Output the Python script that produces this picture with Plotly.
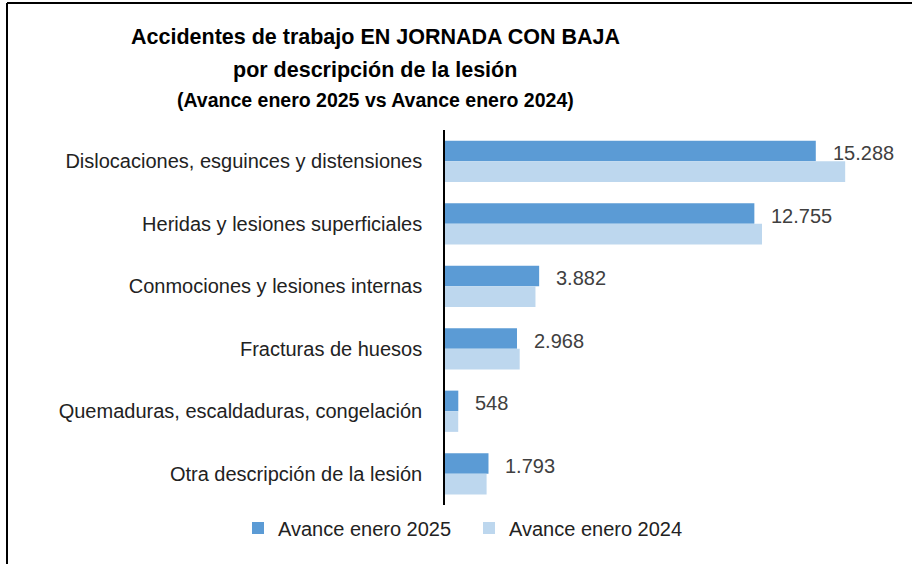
import plotly.graph_objects as go

categories = [
    "Dislocaciones, esguinces y distensiones",
    "Heridas y lesiones superficiales",
    "Conmociones y lesiones internas",
    "Fracturas de huesos",
    "Quemaduras, escaldaduras, congelación",
    "Otra descripción de la lesión",
]
values_2025 = [15288, 12755, 3882, 2968, 548, 1793]
values_2024 = [16500, 13070, 3730, 3080, 545, 1715]
labels_2025 = ["15.288", "12.755", "3.882", "2.968", "548", "1.793"]
series_names = ["Avance enero 2025", "Avance enero 2024"]

W, H = 912, 564
ML, MR, MT, MB = 445, 12, 130, 59
PW = W - ML - MR
PH = H - MT - MB

def px_x(px):
    return (px - ML) / PW

def px_y(py):
    return 1 - (py - MT) / PH

FONT = "Liberation Sans, Arial, sans-serif"

fig = go.Figure()
fig.add_trace(go.Bar(y=categories, x=values_2025, orientation="h", name=series_names[0],
                     marker=dict(color="#5B9BD5", line=dict(width=0))))
fig.add_trace(go.Bar(y=categories, x=values_2024, orientation="h", name=series_names[1],
                     marker=dict(color="#BDD7EE", line=dict(width=0))))

for cat, v, lab in zip(categories, values_2025, labels_2025):
    fig.add_annotation(x=v, y=cat, text=lab, showarrow=False, xanchor="left",
                       xshift=15, yshift=8,
                       font=dict(family=FONT, size=20, color="#404040"))

fig.add_annotation(xref="paper", yref="paper", x=px_x(375), y=px_y(37), text="<b>Accidentes de trabajo EN JORNADA CON BAJA</b>",
                   showarrow=False, xanchor="center", yanchor="middle",
                   font=dict(family=FONT, size=21.5, color="black"))
fig.add_annotation(xref="paper", yref="paper", x=px_x(375), y=px_y(70), text="<b>por descripción de la lesión</b>",
                   showarrow=False, xanchor="center", yanchor="middle",
                   font=dict(family=FONT, size=21.5, color="black"))
fig.add_annotation(xref="paper", yref="paper", x=px_x(375), y=px_y(100), text="<b>(Avance enero 2025 vs Avance enero 2024)</b>",
                   showarrow=False, xanchor="center", yanchor="middle",
                   font=dict(family=FONT, size=19.5, color="black"))

# chart border (top and left edges visible)
fig.add_shape(type="line", xref="paper", yref="paper",
              x0=px_x(7), x1=px_x(915), y0=px_y(3), y1=px_y(3),
              line=dict(color="black", width=2))
fig.add_shape(type="line", xref="paper", yref="paper",
              x0=px_x(7), x1=px_x(7), y0=px_y(3), y1=px_y(570),
              line=dict(color="black", width=2))

fig.update_layout(
    width=W, height=H,
    margin=dict(l=ML, r=MR, t=MT, b=MB),
    paper_bgcolor="white", plot_bgcolor="white",
    barmode="group", bargap=0.34, bargroupgap=0,
    font=dict(family=FONT, size=20, color="#222222"),
    showlegend=True,
    legend=dict(orientation="h", x=px_x(238), xanchor="left", y=px_y(528), yanchor="middle",
                font=dict(family=FONT, size=20, color="#222222"),
                itemwidth=30, traceorder="normal", entrywidth=186, entrywidthmode="pixels"),
    xaxis=dict(range=[0, 18760], visible=False, showgrid=False, zeroline=False),
    yaxis=dict(autorange="reversed", showline=True, linecolor="black", linewidth=1.5,
               ticks="", ticklabelstandoff=17, showgrid=False,
               tickfont=dict(family=FONT, size=20, color="#222222")),
)

fig.write_html("out.html", config={"displayModeBar": False},
               post_script="document.body.style.margin='0';document.body.style.padding='0';")
